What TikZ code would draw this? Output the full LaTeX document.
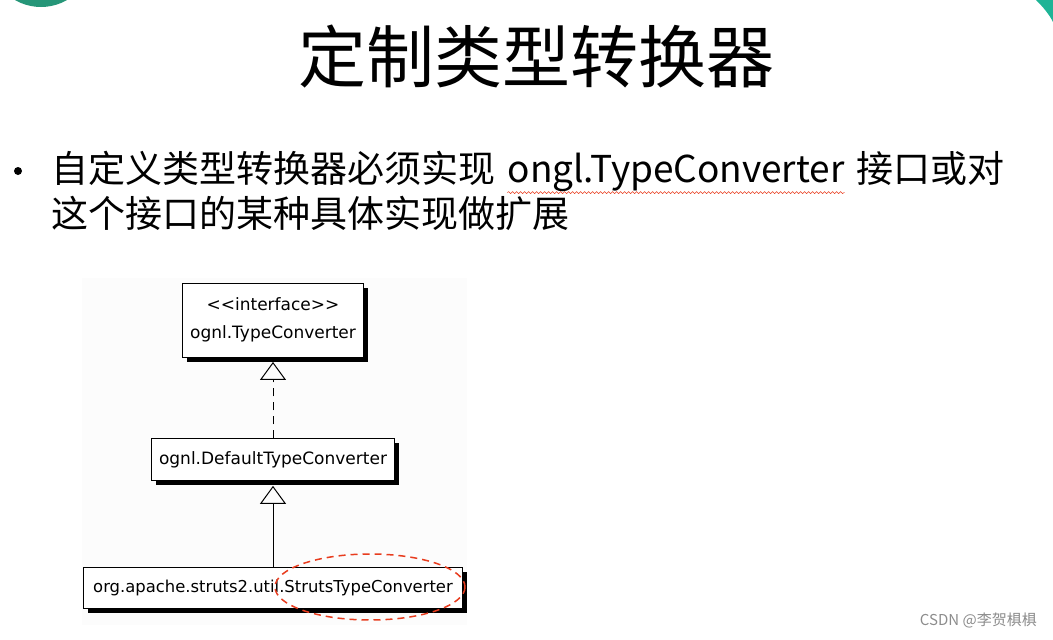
\documentclass[tikz,border=0pt]{standalone}
\usepackage{fontspec}
\setmainfont{Noto Sans CJK SC}
\newfontfamily\umlfont{DejaVu Sans}
\usetikzlibrary{positioning,arrows.meta,shadows,decorations.pathmorphing}
\definecolor{tealdot}{RGB}{38,150,120}
\definecolor{tealarc}{RGB}{30,180,150}
\definecolor{markred}{RGB}{232,60,30}
\definecolor{umlbg}{RGB}{252,252,252}

\begin{document}
\begin{tikzpicture}[x=1pt,y=-1pt,
    title/.style={inner sep=0pt,font=\fontsize{68}{72}\selectfont},
    body/.style={inner sep=0pt,font=\fontsize{37}{40}\selectfont},
    uml box/.style={draw,line width=0.9pt,fill=white,inner sep=0pt,align=center,
      font=\umlfont\fontsize{17}{28}\selectfont,
      drop shadow={shadow xshift=4.5pt,shadow yshift=-4.5pt,fill=black,opacity=1}},
    realize/.style={dash pattern=on 8pt off 6pt,line width=1pt,shorten >=4.5pt,
      -{Triangle[open,width=26pt,length=18pt,line width=1pt]}},
    extend/.style={line width=1pt,shorten >=4.5pt,
      -{Triangle[open,width=26pt,length=18pt,line width=1pt]}},
    mark ring/.style={markred,line width=1.5pt,dash pattern=on 7pt off 5pt},
    spell/.style={markred,line width=0.5pt,decorate,decoration={snake,amplitude=1pt,segment length=4pt}}]
  \useasboundingbox (0,0) rectangle (1053,640);
  \begin{scope}
    \clip (0,0) rectangle (1053,640);
    \fill[tealdot] (41,-45) circle[radius=52];
    \fill[tealarc] (1036,0) .. controls (1043,7) and (1049,14) .. (1053,22) -- (1053,0) -- cycle;
  \end{scope}

  % heading and bullet text
  \node[title] (title) at (536,57) {定制类型转换器};
  \node[circle,fill=black,inner sep=0pt,minimum size=8pt] (dot) at (18,171) {};
  \node[body,anchor=west] (line1) at (51,168) {自定义类型转换器必须实现};
  \node[body] (ongl) [base right=12pt of line1] {ongl.TypeConverter};
  \node[body] (line1end) [base right=12pt of ongl] {接口或对};
  \node[body,anchor=west] (line2) at (51,213) {这个接口的某种具体实现做扩展};
  \draw[spell] ([yshift=-1pt]ongl.south west) -- ([yshift=-1pt]ongl.south east);

  % class diagram
  \fill[umlbg] (82,278) rectangle (467,625);
  \node[uml box,minimum width=181pt,minimum height=74pt] (iface) at (273,320)
    {\textless\textless interface\textgreater\textgreater\\ognl.TypeConverter};
  \node[uml box,minimum width=243pt,minimum height=42pt] (default) [below=81pt of iface] {ognl.DefaultTypeConverter};
  \node[uml box,minimum width=379pt,minimum height=41pt,font=\umlfont\fontsize{16.4}{20}\selectfont] (struts) [below=86pt of default] {org.apache.struts2.util.StrutsTypeConverter};

  \path (default) edge[realize] (iface)
        (struts) edge[extend] (default);

  \draw[mark ring] (370,587) ellipse [x radius=95,y radius=33];

  \node[inner sep=0pt,text=black!45,font=\fontsize{15}{18}\selectfont,anchor=east] (csdn) at (1037,620) {CSDN @李贺椇椇};
\end{tikzpicture}
\end{document}
